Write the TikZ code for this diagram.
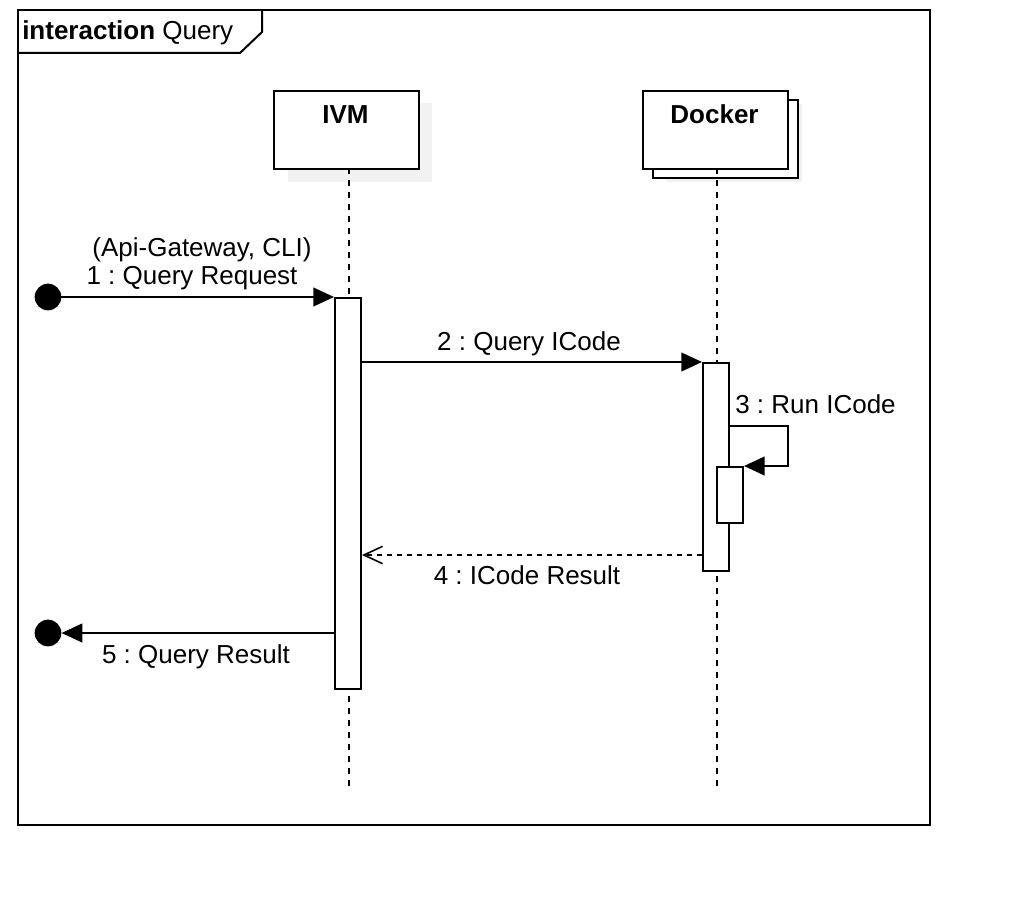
\documentclass[tikz,border=0pt]{standalone}
\usepackage{fontspec}
\setmainfont{Liberation Sans}
\usetikzlibrary{arrows.meta}
\frenchspacing
\begin{document}
\begin{tikzpicture}[x=0.75pt,y=-0.75pt,
  lw/.style={line width=1.5pt},
  headbox/.style={draw, lw, fill=white, minimum width=108.75pt, minimum height=58.5pt, inner sep=0pt, anchor=north west},
  actbar/.style={draw, lw, fill=white, minimum width=19.5pt, inner sep=0pt, anchor=north west},
  lifeline/.style={line width=1.5pt, dash pattern=on 4.5pt off 4.5pt},
  msg/.style={lw, -{Triangle[length=15.5pt,width=14pt]}},
  ret/.style={line width=1.2pt, dash pattern=on 4pt off 3.5pt, -{Straight Barb[length=14pt,width=13pt,line width=1.2pt]}},
  lbl/.style={font=\fontsize{19.5}{23}\selectfont\frenchspacing, inner sep=0pt},
  enddot/.style={circle, fill=black, minimum size=20pt, inner sep=0pt}
]
\useasboundingbox (0,0) rectangle (1012,916);
% frame
\draw[lw] (18,10) rectangle (930,825);
\draw[lw] (18,53) -- (240,53) -- (262,32) -- (262,10);
\node[lbl, anchor=base west] (title) at (22,40) {\textbf{interaction} Query};
% heads
\fill[black!5] (288,103) rectangle (432,182);
\node[headbox] (ivm) at (273,90) {};
\node[lbl, anchor=base, font=\fontsize{19.5}{23}\selectfont\bfseries] (ivmt) at (345.5,124) {IVM};
\fill[black!5] (666,104) rectangle (802,182);
\node[headbox] (dockback) at (652,99) {};
\node[headbox] (docker) at (642,90) {};
\node[lbl, anchor=base, font=\fontsize{19.5}{23}\selectfont\bfseries] (dockert) at (714.5,124) {Docker};
% lifelines
\coordinate (ivmtop) at (349,168);
\coordinate (ivmbot) at (349,788);
\coordinate (doctop) at (717,168);
\coordinate (docbot) at (717,788);
\draw[lifeline] (ivmtop) -- (ivmbot);
\draw[lifeline] (doctop) -- (docbot);
% activations
\node[actbar, minimum height=293.25pt] (a1) at (334,297) {};
\node[actbar, minimum height=156pt] (a2) at (702,362) {};
\node[actbar, minimum height=42pt] (a3) at (716,466) {};
% message 1
\node[enddot] (start) at (48,297) {};
\draw[msg] (start.center) -- (a1.north west);
\node[lbl, anchor=base] (m1a) at (202,256) {(Api-Gateway, CLI)};
\node[lbl, anchor=base] (m1b) at (192,284) {1 : Query Request};
% message 2
\draw[msg] (a1.east |- a2.north west) -- (a2.north west);
\node[lbl, anchor=base] (m2) at (529,350) {2 : Query ICode};
% message 3 (self)
\coordinate (s3) at (788,426);
\draw[msg] (a2.east |- s3) -- (s3) |- (a3.north east);
\node[lbl, anchor=base west] (m3) at (735,413) {3 : Run ICode};
% message 4 (return)
\coordinate (r4) at (702,555);
\draw[ret] (r4) -- (r4 -| a1.east);
\node[lbl, anchor=base] (m4) at (527,584) {4 : ICode Result};
% message 5
\coordinate (r5) at (334,633);
\node[enddot] (finish) at (48,633) {};
\draw[msg] (r5) -- (finish.east);
\node[lbl, anchor=base] (m5) at (196,663) {5 : Query Result};
\end{tikzpicture}
\end{document}
